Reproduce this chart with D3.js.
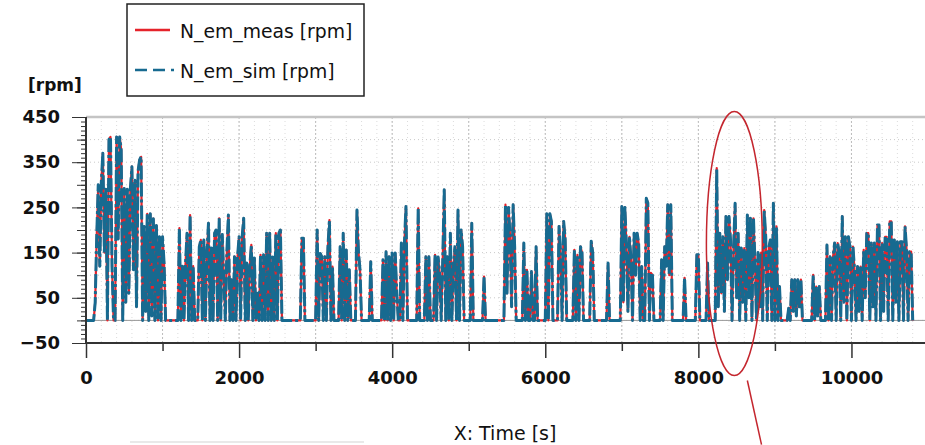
<!DOCTYPE html>
<html>
<head>
<meta charset="utf-8">
<script src="https://cdn.jsdelivr.net/npm/d3@7"></script>
<style>
  body { margin: 0; background: #fff; }
  text { font-family: "DejaVu Sans", sans-serif; }
</style>
</head>
<body>
<svg id="chart" width="925" height="445"></svg>
<script>
var sampleStep = 20;
var nMeas = [
  0,0,0,0,0,0,40,185,300,120,305,370,150,290,0,400,406,120,0,0,406,180,406,377,0,
  292,40,290,60,292,340,112,310,30,330,355,362,0,208,20,236,0,236,10,225,0,210,0,185,0,
  185,127,0,0,0,0,0,0,0,0,0,204,0,120,0,125,193,0,233,0,120,0,0,0,163,
  178,0,178,0,150,215,0,160,0,193,200,0,226,0,190,97,0,150,233,0,90,0,141,0,141,
  185,0,185,226,0,127,0,120,167,0,138,0,60,0,145,0,145,0,193,0,193,0,140,0,193,
  0,193,200,0,0,0,0,0,0,0,0,0,0,0,0,0,182,182,0,0,0,0,0,0,0,
  0,200,0,148,141,0,141,0,160,222,0,119,0,0,0,0,163,0,193,0,156,0,112,0,0,
  0,0,244,150,112,0,0,0,0,0,0,130,0,0,0,0,0,0,0,134,0,152,0,141,0,
  149,0,149,60,0,0,171,0,171,252,0,0,0,0,0,0,0,248,0,0,0,0,141,0,141,
  0,0,0,145,0,140,105,0,130,289,0,141,0,193,0,120,163,0,244,0,200,163,0,0,0,
  0,0,215,0,0,0,0,0,0,0,97,0,0,0,0,0,0,0,0,0,0,0,0,0,256,
  60,250,185,30,256,163,0,0,0,0,0,171,0,112,0,0,108,0,0,163,0,0,0,0,0,
  0,236,0,236,219,0,0,0,0,208,150,0,219,180,0,0,0,0,0,156,0,145,0,163,150,
  0,0,0,0,0,175,150,0,0,0,0,0,0,0,0,0,127,0,0,0,0,0,0,0,0,
  252,40,250,167,20,185,134,0,193,100,193,171,0,119,0,0,270,260,0,105,100,0,0,0,0,
  0,134,0,163,120,256,100,256,0,0,0,0,0,0,0,0,94,0,0,0,0,0,0,0,145,
  145,0,0,0,0,0,127,0,0,0,0,0,337,30,193,60,185,20,230,90,230,178,0,160,259,
  50,193,0,160,40,160,0,233,50,226,0,226,127,0,150,30,150,0,244,185,0,160,178,0,259,
  0,208,0,75,0,0,0,0,0,27,0,90,20,90,10,90,30,90,0,0,0,0,0,0,0,
  101,0,75,10,75,0,0,0,0,167,0,141,0,141,171,0,171,150,0,230,40,185,0,185,163,
  0,163,112,0,119,20,119,0,156,50,193,193,0,171,30,171,0,211,211,0,171,20,185,185,0,
  219,219,0,178,40,174,0,174,174,0,208,156,0,152,152,0
];
// simulated trace sits on top of the measured one, no visible difference at this scale
var nSim = nMeas.slice();

var xTicks = [0, 2000, 4000, 6000, 8000, 10000];
var xMinorTicks = [1000, 3000, 5000, 7000, 9000];
var yTicks = [-50, 50, 150, 250, 350, 450];
var seriesNames = ["N_em_meas [rpm]", "N_em_sim [rpm]"];

// hand drawn mark around the 8000 s zone (time, speed, half sizes)
var zone = { t: 8470, v: 170, dt: 365, dv: 292 };
var leader = [[8640, -133], [8825, -275]];

var red = "#e5232b", blue = "#176a90";
var dash = "12,6,12,6,3,6";

var svg = d3.select("#chart");

var x = d3.scaleLinear().domain([0, 11000]).range([86, 928]);
var y = d3.scaleLinear().domain([-50, 450]).range([343, 117]);

// grid
var grid = svg.append("g");
grid.selectAll(".vmin")
  .data(d3.range(0, 11000, 200))
  .enter().append("line")
  .attr("x1", d => x(d)).attr("x2", d => x(d))
  .attr("y1", y(450)).attr("y2", y(-50))
  .attr("stroke", "#dcdcdc").attr("stroke-dasharray", "1,3");
grid.selectAll(".h")
  .data(d3.range(-50, 451, 50))
  .enter().append("line")
  .attr("x1", x(0)).attr("x2", 925)
  .attr("y1", d => y(d)).attr("y2", d => y(d))
  .attr("stroke", "#cacaca").attr("stroke-dasharray", "1,3");
grid.selectAll(".vmaj")
  .data(xTicks.concat(xMinorTicks))
  .enter().append("line")
  .attr("x1", d => x(d)).attr("x2", d => x(d))
  .attr("y1", y(450)).attr("y2", y(-50))
  .attr("stroke", "#bdbdbd").attr("stroke-dasharray", "2,2");

// zero line
svg.append("line")
  .attr("x1", x(0)).attr("x2", 925)
  .attr("y1", y(0)).attr("y2", y(0))
  .attr("stroke", "#999");

// top frame
svg.append("line")
  .attr("x1", x(0)).attr("x2", 925)
  .attr("y1", y(450)).attr("y2", y(450))
  .attr("stroke", "#c4c4c4").attr("stroke-width", 2.5);

var line = d3.line()
  .x((d, i) => x(i * sampleStep))
  .y(d => y(d));

svg.append("path")
  .datum(nMeas)
  .attr("d", line)
  .attr("fill", "none")
  .attr("stroke", red)
  .attr("stroke-width", 2.2)
  .attr("stroke-linejoin", "round");

svg.append("path")
  .datum(nSim)
  .attr("d", line)
  .attr("fill", "none")
  .attr("stroke", blue)
  .attr("stroke-width", 3)
  .attr("stroke-linejoin", "round")
  .attr("stroke-dasharray", "14,3,14,3,3,3");

// y axis
var yMinor = svg.append("g").attr("transform", "translate(86,0)")
  .call(d3.axisLeft(y).tickValues(d3.range(-50, 451, 10)).tickSize(5).tickFormat(""));
var yMid = svg.append("g").attr("transform", "translate(86,0)")
  .call(d3.axisLeft(y).tickValues(d3.range(-50, 451, 50)).tickSize(9).tickFormat(""));
var yAxis = svg.append("g").attr("transform", "translate(86,0)")
  .call(d3.axisLeft(y).tickValues(yTicks).tickSize(14).tickPadding(12));
[yMinor, yMid, yAxis].forEach(g => {
  g.select(".domain").remove();
  g.selectAll("line").attr("stroke", "#333");
});
yAxis.selectAll("text")
  .attr("font-family", "DejaVu Sans").attr("font-size", 18)
  .attr("font-weight", "bold").attr("fill", "#111");
svg.append("line")
  .attr("x1", 86).attr("x2", 86)
  .attr("y1", y(450)).attr("y2", y(-50))
  .attr("stroke", "#333").attr("stroke-width", 2);

// x axis
var xMinor = svg.append("g").attr("transform", "translate(0,343)")
  .call(d3.axisBottom(x).tickValues(xMinorTicks).tickSize(8).tickFormat(""));
var xAxis = svg.append("g").attr("transform", "translate(0,343)")
  .call(d3.axisBottom(x).tickValues(xTicks).tickSize(15).tickPadding(13).tickFormat(d3.format("d")));
[xMinor, xAxis].forEach(g => {
  g.select(".domain").remove();
  g.selectAll("line").attr("stroke", "#333").attr("stroke-width", 1.5);
});
xAxis.selectAll("text")
  .attr("font-family", "DejaVu Sans").attr("font-size", 18)
  .attr("font-weight", "bold").attr("fill", "#111");
svg.append("line")
  .attr("x1", 86).attr("x2", 925)
  .attr("y1", 343).attr("y2", 343)
  .attr("stroke", "#333").attr("stroke-width", 2);

// titles
svg.append("text")
  .attr("x", 28).attr("y", 91)
  .attr("font-size", 17).attr("font-weight", "bold").attr("fill", "#111")
  .text("[rpm]");
svg.append("text")
  .attr("x", 505).attr("y", 440)
  .attr("text-anchor", "middle")
  .attr("font-size", 19).attr("fill", "#111")
  .text("X: Time [s]");

// legend
var legend = svg.append("g");
legend.append("rect")
  .attr("x", 127).attr("y", 4).attr("width", 237).attr("height", 92)
  .attr("fill", "#fff").attr("stroke", "#222").attr("stroke-width", 1.5);
seriesNames.forEach((name, i) => {
  var ly = 30 + i * 40;
  legend.append("line")
    .attr("x1", 135).attr("x2", i ? 178 : 170)
    .attr("y1", ly).attr("y2", ly)
    .attr("stroke", i ? blue : red).attr("stroke-width", 2.5)
    .attr("stroke-dasharray", i ? dash : null);
  legend.append("text")
    .attr("x", 180).attr("y", ly + 8)
    .attr("font-size", 18.8).attr("fill", "#111")
    .text(name);
});

// faint box edge at the bottom
svg.append("line")
  .attr("x1", 130).attr("x2", 364).attr("y1", 442).attr("y2", 442)
  .attr("stroke", "#e2e2e2").attr("stroke-width", 1.5);

// annotation
svg.append("ellipse")
  .attr("cx", x(zone.t)).attr("cy", y(zone.v))
  .attr("rx", x(zone.t + zone.dt) - x(zone.t))
  .attr("ry", y(zone.v - zone.dv) - y(zone.v))
  .attr("fill", "none").attr("stroke", "#c4262e").attr("stroke-width", 1.5);
svg.append("line")
  .attr("x1", x(leader[0][0])).attr("y1", y(leader[0][1]))
  .attr("x2", x(leader[1][0])).attr("y2", y(leader[1][1]))
  .attr("stroke", "#c4262e").attr("stroke-width", 1.5);
</script>
</body>
</html>
